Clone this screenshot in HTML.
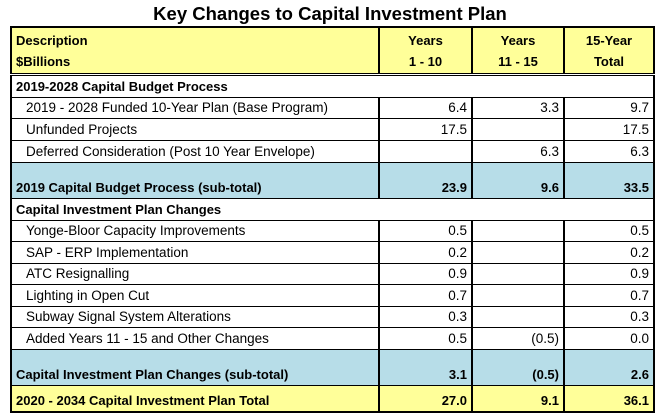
<!DOCTYPE html>
<html><head><meta charset="utf-8"><style>
body{margin:0;background:#fff;width:660px;height:415px;overflow:hidden;font-family:"Liberation Sans",Arial,sans-serif;}
#title{position:absolute;left:0;top:3px;width:660px;text-align:center;font-weight:bold;font-size:18.5px;color:#000;}
table{position:absolute;left:10px;top:26px;border-collapse:collapse;table-layout:fixed;width:643px;font-size:13.5px;border:2px solid #000;}
td{border:1px solid #000;padding:0 4px;white-space:nowrap;overflow:hidden;}
td.n{text-align:right;}
.hd td{background:#ffff99;font-weight:bold;vertical-align:top;line-height:21px;padding-top:2px;border-left:2px solid #000;font-size:13px;}
.hd td.c{text-align:center;}
.sec td{font-weight:bold;border-top:3px double #000;font-size:13px;}
.d td:first-child{padding-left:14px;}
.blue td{background:#b7dde8;font-weight:bold;vertical-align:bottom;padding-bottom:3px;font-size:13px;}
.yel td{background:#ffff99;font-weight:bold;vertical-align:bottom;padding-bottom:3px;font-size:13px;}
td.v{border-left:2px solid #000;}
</style></head><body>
<div id="title">Key Changes to Capital Investment Plan</div>
<table>
<colgroup><col style="width:368px"><col style="width:93px"><col style="width:92px"><col style="width:90px"></colgroup>
<tr class="hd" style="height:47px"><td style="border-left:0">Description<br>$Billions</td><td class="c">Years<br>1 - 10</td><td class="c">Years<br>11 - 15</td><td class="c">15-Year<br>Total</td></tr>
<tr class="sec" style="height:23px"><td colspan="4">2019-2028 Capital Budget Process</td></tr>
<tr class="d" style="height:21px"><td>2019 - 2028 Funded 10-Year Plan (Base Program)</td><td class="n v">6.4</td><td class="n v">3.3</td><td class="n v">9.7</td></tr>
<tr class="d" style="height:22px"><td>Unfunded Projects</td><td class="n v">17.5</td><td class="n v"></td><td class="n v">17.5</td></tr>
<tr class="d" style="height:22px"><td>Deferred Consideration (Post 10 Year Envelope)</td><td class="n v"></td><td class="n v">6.3</td><td class="n v">6.3</td></tr>
<tr class="blue" style="height:36px"><td>2019 Capital Budget Process (sub-total)</td><td class="n v">23.9</td><td class="n v">9.6</td><td class="n v">33.5</td></tr>
<tr style="height:22px;font-weight:bold;font-size:13px"><td colspan="4">Capital Investment Plan Changes</td></tr>
<tr class="d" style="height:21px"><td>Yonge-Bloor Capacity Improvements</td><td class="n v">0.5</td><td class="n v"></td><td class="n v">0.5</td></tr>
<tr class="d" style="height:22px"><td>SAP - ERP Implementation</td><td class="n v">0.2</td><td class="n v"></td><td class="n v">0.2</td></tr>
<tr class="d" style="height:21px"><td>ATC Resignalling</td><td class="n v">0.9</td><td class="n v"></td><td class="n v">0.9</td></tr>
<tr class="d" style="height:22px"><td>Lighting in Open Cut</td><td class="n v">0.7</td><td class="n v"></td><td class="n v">0.7</td></tr>
<tr class="d" style="height:21px"><td>Subway Signal System Alterations</td><td class="n v">0.3</td><td class="n v"></td><td class="n v">0.3</td></tr>
<tr class="d" style="height:22px"><td>Added Years 11 - 15 and Other Changes</td><td class="n v">0.5</td><td class="n v">(0.5)</td><td class="n v">0.0</td></tr>
<tr class="blue" style="height:36px"><td>Capital Investment Plan Changes (sub-total)</td><td class="n v">3.1</td><td class="n v">(0.5)</td><td class="n v">2.6</td></tr>
<tr class="yel" style="height:27px"><td>2020 - 2034 Capital Investment Plan Total</td><td class="n v">27.0</td><td class="n v">9.1</td><td class="n v">36.1</td></tr>
</table>
</body></html>
